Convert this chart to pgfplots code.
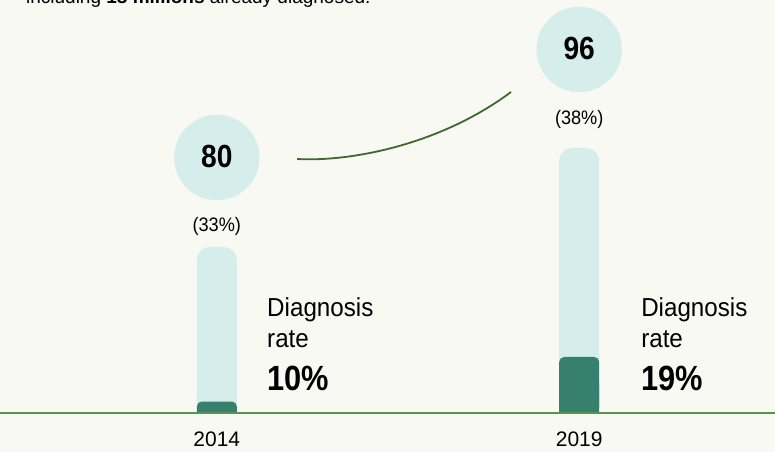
\documentclass[border=0pt]{standalone}
\usepackage{pgfplots}
\pgfplotsset{compat=1.18}
\usepackage{fontspec}
\setmainfont{Liberation Sans}
\newfontfamily\cond{Liberation Sans}[FakeStretch=0.93]
\newfontfamily\condb{Liberation Sans Bold}[FakeStretch=0.88]
\definecolor{bg}{HTML}{F9F9F4}
\definecolor{lightc}{HTML}{D5EEEC}
\definecolor{darkc}{HTML}{37806F}
\definecolor{basec}{HTML}{5A9350}
\definecolor{curvec}{HTML}{3D6A2C}
\begin{document}
\begin{tikzpicture}
\useasboundingbox (0,0) rectangle (775pt,452pt);
\fill[bg] (0,0) rectangle (775pt,452pt);
\begin{axis}[at={(0,0)}, anchor=south west, scale only axis,
  width=775pt, height=452pt,
  xmin=2011.009, xmax=2021.701, ymin=-40, ymax=412,
  axis lines=none, clip=false]
% total prevalence bars (light)
\addplot[ybar, bar width=40pt, bar shift=0pt, fill=lightc, draw=none, rounded corners=13pt]
  coordinates {(2014,165) (2019,264)};
\addplot[ybar, bar width=40pt, bar shift=0pt, fill=lightc, draw=none]
  coordinates {(2014,20) (2019,20)};
% diagnosed part (dark)
\addplot[ybar, bar width=40pt, bar shift=0pt, fill=darkc, draw=none, rounded corners=5pt]
  coordinates {(2014,10.5) (2019,55)};
\addplot[ybar, bar width=40pt, bar shift=0pt, fill=darkc, draw=none]
  coordinates {(2014,5) (2019,30)};
% circles with totals (millions)
\addplot[only marks, color=lightc, mark=*, mark size=42.5pt,
  mark options={fill=lightc, draw=lightc},
  point meta=explicit symbolic,
  nodes near coords={\condb\fontsize{32}{32}\selectfont\pgfplotspointmeta},
  every node near coord/.style={anchor=center, inner sep=0pt, text=black, yshift=1.5pt}]
  coordinates {(2014,254.5) [80] (2019,362.5) [96]};
% percentage below circles
\addplot[only marks, mark=none, draw=none,
  point meta=explicit symbolic,
  nodes near coords={\cond\fontsize{19.5}{19.5}\selectfont\pgfplotspointmeta},
  every node near coord/.style={anchor=base, inner sep=0pt, text=black}]
  coordinates {(2014,180.3) [(33\%)] (2019,287) [(38\%)]};
% baseline
\draw[basec, line width=2pt] (axis cs:2011.009,-0.5) -- (axis cs:2021.701,-0.5);
% connector curve
\draw[curvec, line width=1.8pt] (axis cs:2015.107,253) .. controls (axis cs:2015.838,250) and (axis cs:2017.080,267) .. (axis cs:2018.059,320);
% diagnosis rate labels
\node[anchor=base west, inner sep=0pt] at (axis cs:2014.693,95) {\cond\fontsize{26}{26}\selectfont Diagnosis};
\node[anchor=base west, inner sep=0pt] at (axis cs:2014.693,64) {\cond\fontsize{26}{26}\selectfont rate};
\node[anchor=base west, inner sep=0pt] at (axis cs:2014.693,22) {\condb\fontsize{35}{35}\selectfont 10\%};
\node[anchor=base west, inner sep=0pt] at (axis cs:2019.853,95) {\cond\fontsize{26}{26}\selectfont Diagnosis};
\node[anchor=base west, inner sep=0pt] at (axis cs:2019.853,64) {\cond\fontsize{26}{26}\selectfont rate};
\node[anchor=base west, inner sep=0pt] at (axis cs:2019.853,22) {\condb\fontsize{35}{35}\selectfont 19\%};
% year labels
\node[anchor=base, inner sep=0pt] at (axis cs:2014,-34.5) {\fontsize{21}{21}\selectfont 2014};
\node[anchor=base, inner sep=0pt] at (axis cs:2019,-34.5) {\fontsize{21}{21}\selectfont 2019};
% cut-off subtitle
\node[anchor=base west, inner sep=0pt] at (axis cs:2011.367,408) {\fontsize{19}{19}\selectfont including \textbf{18 millions} already diagnosed.};
\end{axis}
\end{tikzpicture}
\end{document}
